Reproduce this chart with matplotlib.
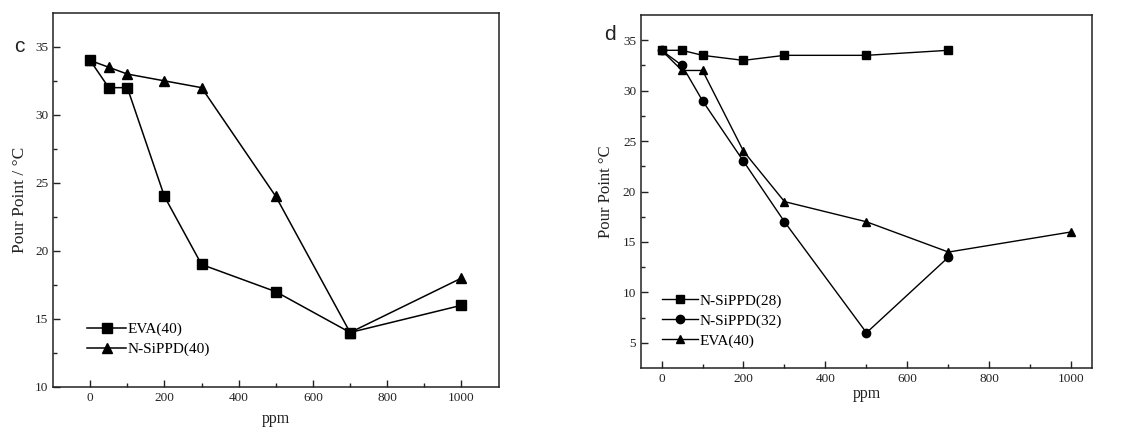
"""Pour point vs additive dosage, two panels (c, d)."""
import matplotlib
matplotlib.use("Agg")
import matplotlib.pyplot as plt

# panel c
ppm_c = [0, 50, 100, 200, 300, 500, 700, 1000]
eva40_c = [34, 32, 32, 24, 19, 17, 14, 16]
sippd40_c = [34, 33.5, 33, 32.5, 32, 24, 14, 18]

# panel d
ppm_d = [0, 50, 100, 200, 300, 500, 700]
sippd28_d = [34, 34, 33.5, 33, 33.5, 33.5, 34]
sippd32_d = [34, 32.5, 29, 23, 17, 6, 13.5]
ppm_d_eva = [0, 50, 100, 200, 300, 500, 700, 1000]
eva40_d = [34, 32, 32, 24, 19, 17, 14, 16]

plt.rcParams["font.family"] = ["Liberation Serif", "DejaVu Serif"]
INK = "#222222"


def style(ax, xlim, ylim, yticks, minor_y, xpad):
    ax.set_xlim(*xlim)
    ax.set_ylim(*ylim)
    ax.set_xticks([0, 200, 400, 600, 800, 1000])
    ax.set_xticks([100, 300, 500, 700, 900], minor=True)
    ax.set_yticks(yticks)
    ax.set_yticks(minor_y, minor=True)
    ax.tick_params(which="both", direction="in", top=False, right=False,
                   labelsize=9.5, colors=INK, width=1)
    ax.tick_params(which="major", length=5)
    ax.tick_params(which="minor", length=3)
    for s in ax.spines.values():
        s.set_color(INK)
        s.set_linewidth(1.1)
    ax.set_xlabel("ppm", fontsize=11.5, labelpad=xpad, color=INK)


fig = plt.figure(figsize=(11.41, 4.28), dpi=100)
ax1 = fig.add_axes([0.0465, 0.096, 0.3905, 0.874])
ax2 = fig.add_axes([0.5618, 0.140, 0.3952, 0.825])

kw = dict(color="black", linewidth=1.1, markersize=7)
ax1.plot(ppm_c, eva40_c, marker="s", label="EVA(40)", **kw)
ax1.plot(ppm_c, sippd40_c, marker="^", label="N-SiPPD(40)", **kw)
style(ax1, (-100, 1100), (10, 37.5), [10, 15, 20, 25, 30, 35],
      [12.5, 17.5, 22.5, 27.5, 32.5], 5)
ax1.set_ylabel("Pour Point / °C", fontsize=12.5, labelpad=5, color=INK)
ax1.legend(loc="lower left", bbox_to_anchor=(0.063, 0.066), frameon=False,
           fontsize=11, handlelength=2.55, handletextpad=0.1, labelspacing=0.4,
           borderaxespad=0)

kw2 = dict(color="black", linewidth=1.0, markersize=6)
ax2.plot(ppm_d, sippd28_d, marker="s", label="N-SiPPD(28)", **kw2)
ax2.plot(ppm_d, sippd32_d, marker="o", label="N-SiPPD(32)", **kw2)
ax2.plot(ppm_d_eva, eva40_d, marker="^", label="EVA(40)", **kw2)
style(ax2, (-50, 1050), (2.5, 37.5), [5, 10, 15, 20, 25, 30, 35],
      [7.5, 12.5, 17.5, 22.5, 27.5, 32.5], 1)
ax2.set_ylabel("Pour Point °C", fontsize=12, labelpad=6, color=INK)
ax2.legend(loc="lower left", bbox_to_anchor=(0.034, 0.04), frameon=False,
           fontsize=11, handlelength=2.3, handletextpad=0.1, labelspacing=0.4,
           borderaxespad=0)

fig.text(19.5 / 1141, 1 - 47 / 428, "c", fontsize=15, family="Liberation Sans",
         ha="center", va="center", color=INK)
fig.text(610 / 1141, 1 - 35 / 428, "d", fontsize=15, family="Liberation Sans",
         ha="center", va="center", color=INK)

fig.savefig("out.png", dpi=100)
